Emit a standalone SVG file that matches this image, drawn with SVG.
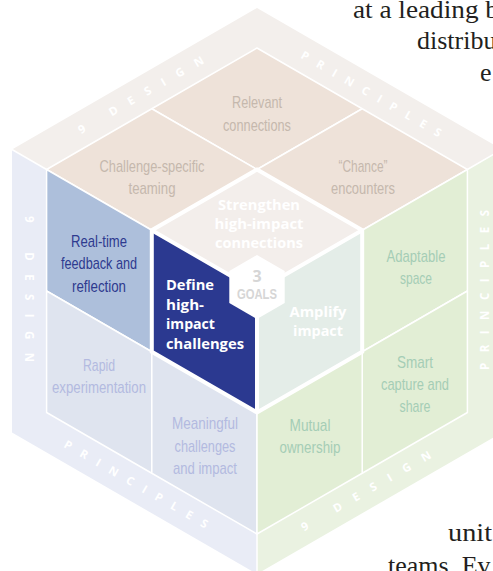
<svg xmlns="http://www.w3.org/2000/svg" width="493" height="571" viewBox="0 0 493 571">
<style>
.tile{stroke:#fff;stroke-width:1.5;stroke-linejoin:round}
.lbl{font-family:"Liberation Sans",Arial,sans-serif;font-size:17px;text-anchor:middle}
.goal{font-family:"Open Sans","Noto Sans",sans-serif;font-weight:bold;font-size:15px;fill:#fff}
.band{font-family:"Open Sans","Noto Sans",sans-serif;font-weight:bold;font-size:11.5px;fill:#fff}
.bg{font-family:"Liberation Serif",serif;font-size:26px;fill:#231f20}
.top{fill:#eee2d9}.topt{fill:#c5b8ad}
.lft{fill:#dfe4ef}.lftt{fill:#b3bae0}
.rgt{fill:#e2eed5}.rgtt{fill:#a5cdb5}
</style>
<rect width="493" height="571" fill="#fff"/>
<g id="background-text" class="bg">
<text x="353" y="18" textLength="146" lengthAdjust="spacingAndGlyphs">at a leading b</text>
<text x="417" y="49">distribu</text>
<text x="480" y="81">e</text>
<text x="448" y="541" textLength="44" lengthAdjust="spacingAndGlyphs">unit</text>
<text x="388" y="574">teams. Ev</text>
</g>
<g id="bands">
<polygon points="257,8 12,149.5 257,291 502,149.5" fill="#f3efec"/>
<polygon points="12,149.5 257,291 257,574 12,432.5" fill="#e9ecf6"/>
<polygon points="257,291 502,149.5 502,432.5 257,574" fill="#eaf2e1"/>
<g class="band">
<text transform="translate(81,134.2) rotate(-30)" textLength="143" lengthAdjust="spacing">9 DESIGN</text>
<text transform="translate(300,57.5) rotate(30)" textLength="160" lengthAdjust="spacing">PRINCIPLES</text>
<text transform="translate(25.3,216) rotate(90)" textLength="146" lengthAdjust="spacing">9 DESIGN</text>
<text transform="translate(63,446.7) rotate(30)" textLength="164" lengthAdjust="spacing">PRINCIPLES</text>
<text transform="translate(488.7,370) rotate(-90)" textLength="160" lengthAdjust="spacing">PRINCIPLES</text>
<text transform="translate(304,531.5) rotate(-30)" textLength="148" lengthAdjust="spacing">9 DESIGN</text>
</g>
</g>
<g id="relevant-connections">
<polygon class="tile top" points="257,48 151.8,108.75 257,169.5 362.2,108.75"/>
<text class="lbl topt" x="257" y="108" textLength="50" lengthAdjust="spacingAndGlyphs">Relevant</text>
<text class="lbl topt" x="257" y="131" textLength="68" lengthAdjust="spacingAndGlyphs">connections</text>
</g>
<g id="challenge-specific-teaming">
<polygon class="tile top" points="151.8,108.75 46.6,169.5 151.8,230.25 257,169.5"/>
<text class="lbl topt" x="152" y="172" textLength="105" lengthAdjust="spacingAndGlyphs">Challenge-specific</text>
<text class="lbl topt" x="152" y="194" textLength="47" lengthAdjust="spacingAndGlyphs">teaming</text>
</g>
<g id="chance-encounters">
<polygon class="tile top" points="362.2,108.75 257,169.5 362.2,230.25 467.4,169.5"/>
<text class="lbl topt" x="363" y="172" textLength="49" lengthAdjust="spacingAndGlyphs">“Chance”</text>
<text class="lbl topt" x="363" y="194" textLength="64" lengthAdjust="spacingAndGlyphs">encounters</text>
</g>
<g id="real-time-feedback">
<polygon class="tile" fill="#adbfdb" points="46.6,169.5 151.8,230.25 151.8,351.75 46.6,291"/>
<text class="lbl" fill="#2e3a8f" x="99" y="247" textLength="56" lengthAdjust="spacingAndGlyphs">Real-time</text>
<text class="lbl" fill="#2e3a8f" x="99" y="269" textLength="76" lengthAdjust="spacingAndGlyphs">feedback and</text>
<text class="lbl" fill="#2e3a8f" x="99" y="292" textLength="54" lengthAdjust="spacingAndGlyphs">reflection</text>
</g>
<g id="rapid-experimentation">
<polygon class="tile lft" points="46.6,291 151.8,351.75 151.8,473.25 46.6,412.5"/>
<text class="lbl lftt" x="99" y="371" textLength="32" lengthAdjust="spacingAndGlyphs">Rapid</text>
<text class="lbl lftt" x="99" y="393" textLength="94" lengthAdjust="spacingAndGlyphs">experimentation</text>
</g>
<g id="meaningful-challenges">
<polygon class="tile lft" points="151.8,351.75 257,412.5 257,534 151.8,473.25"/>
<text class="lbl lftt" x="205" y="429" textLength="66" lengthAdjust="spacingAndGlyphs">Meaningful</text>
<text class="lbl lftt" x="205" y="452" textLength="61" lengthAdjust="spacingAndGlyphs">challenges</text>
<text class="lbl lftt" x="205" y="474" textLength="64" lengthAdjust="spacingAndGlyphs">and impact</text>
</g>
<g id="adaptable-space">
<polygon class="tile rgt" points="362.2,230.25 467.4,169.5 467.4,291 362.2,351.75"/>
<text class="lbl rgtt" x="416" y="262" textLength="59" lengthAdjust="spacingAndGlyphs">Adaptable</text>
<text class="lbl rgtt" x="416" y="284" textLength="32" lengthAdjust="spacingAndGlyphs">space</text>
</g>
<g id="smart-capture">
<polygon class="tile rgt" points="362.2,351.75 467.4,291 467.4,412.5 362.2,473.25"/>
<text class="lbl rgtt" x="415" y="368" textLength="36" lengthAdjust="spacingAndGlyphs">Smart</text>
<text class="lbl rgtt" x="415" y="390" textLength="68" lengthAdjust="spacingAndGlyphs">capture and</text>
<text class="lbl rgtt" x="415" y="412" textLength="31" lengthAdjust="spacingAndGlyphs">share</text>
</g>
<g id="mutual-ownership">
<polygon class="tile rgt" points="257,412.5 362.2,351.75 362.2,473.25 257,534"/>
<text class="lbl rgtt" x="310" y="431" textLength="41" lengthAdjust="spacingAndGlyphs">Mutual</text>
<text class="lbl rgtt" x="310" y="453" textLength="61" lengthAdjust="spacingAndGlyphs">ownership</text>
</g>
<g id="goal-strengthen">
<polygon fill="#f3eeeb" points="257,169.5 151.8,230.25 257,291 362.2,230.25"/>
<text class="goal" text-anchor="middle" x="259" y="210" textLength="82" lengthAdjust="spacingAndGlyphs">Strengthen</text>
<text class="goal" text-anchor="middle" x="259" y="229" textLength="89" lengthAdjust="spacingAndGlyphs">high-impact</text>
<text class="goal" text-anchor="middle" x="259" y="248" textLength="88" lengthAdjust="spacingAndGlyphs">connections</text>
</g>
<g id="goal-define">
<polygon fill="#2b3990" points="151.8,230.25 257,291 257,412.5 151.8,351.75"/>
<text class="goal" x="166" y="290" textLength="48" lengthAdjust="spacingAndGlyphs">Define</text>
<text class="goal" x="166" y="309.5" textLength="38" lengthAdjust="spacingAndGlyphs">high-</text>
<text class="goal" x="166" y="329" textLength="49" lengthAdjust="spacingAndGlyphs">impact</text>
<text class="goal" x="166" y="348.5" textLength="78" lengthAdjust="spacingAndGlyphs">challenges</text>
</g>
<g id="goal-amplify">
<polygon fill="#e4ede8" points="257,291 362.2,230.25 362.2,351.75 257,412.5"/>
<text class="goal" text-anchor="middle" x="318" y="317" textLength="57" lengthAdjust="spacingAndGlyphs">Amplify</text>
<text class="goal" text-anchor="middle" x="318" y="336" textLength="50" lengthAdjust="spacingAndGlyphs">impact</text>
</g>
<g id="connectors" fill="none" stroke="#fff">
<polyline stroke-width="1.5" points="12,149.5 46.6,169.5"/>
<polyline stroke-width="1.5" points="467.4,169.5 502,149.5"/>
<polyline stroke-width="1.5" points="257,534 257,574"/>
<polygon stroke-width="4" stroke-linejoin="miter" points="257,169.5 362.2,230.25 362.2,351.75 257,412.5 151.8,351.75 151.8,230.25"/>
<polyline stroke-width="4" points="151.8,230.25 257,291 362.2,230.25"/>
<polyline stroke-width="4" points="257,291 257,412.5"/>
</g>
<g id="three-goals">
<polygon fill="#fff" points="257,255 284.7,271 284.7,303 257,319 229.3,303 229.3,271"/>
<text x="257" y="282" text-anchor="middle" font-family="Open Sans, sans-serif" font-weight="bold" font-size="16" fill="#d6d6d6">3</text>
<text x="257" y="299" text-anchor="middle" font-family="Liberation Sans, Arial, sans-serif" font-weight="bold" font-size="15" fill="#d6d6d6" textLength="40" lengthAdjust="spacingAndGlyphs">GOALS</text>
</g>
</svg>
